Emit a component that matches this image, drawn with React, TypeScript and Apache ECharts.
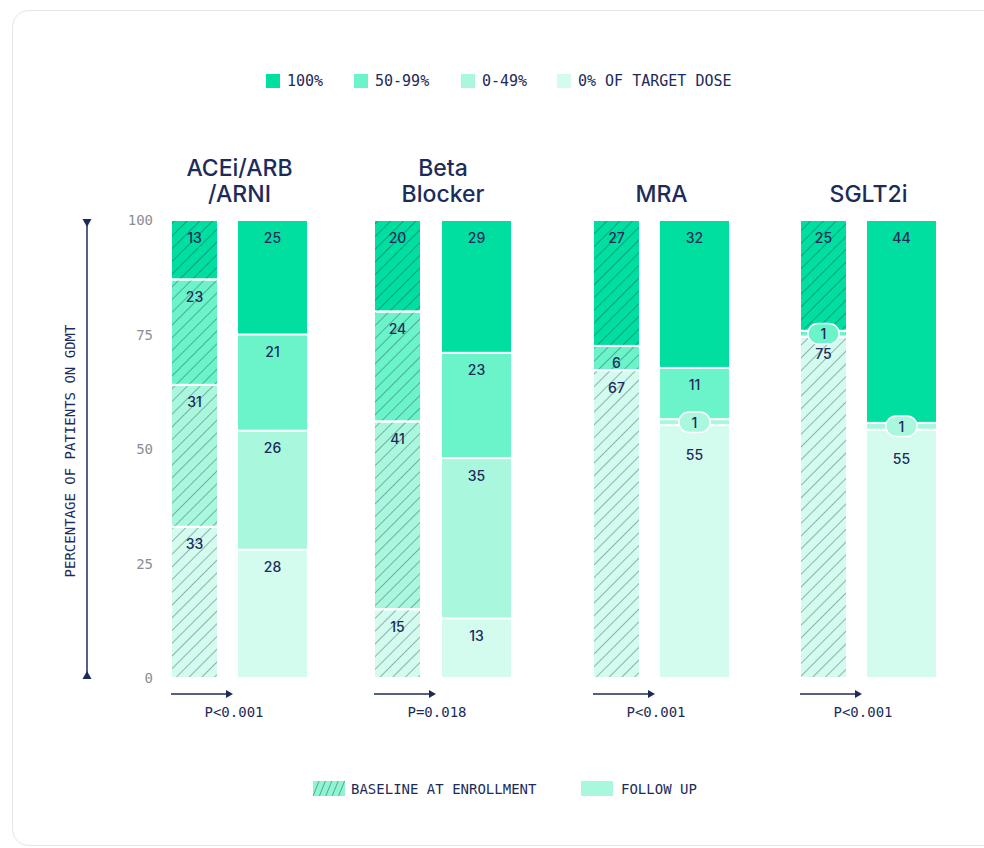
import React, { useEffect, useRef } from "react";
import * as echarts from "echarts";

// ---- data ----
const LEVELS = ["0% OF TARGET DOSE", "0-49%", "50-99%", "100%"]; // bottom -> top
const LEGEND_ORDER = ["100%", "50-99%", "0-49%", "0% OF TARGET DOSE"];
const LEVEL_COLORS = ["#d3fbee", "#a9f8de", "#6bf4c9", "#00df9f"];
const DRUGS = [["ACEi/ARB", "/ARNI"], ["Beta", "Blocker"], ["MRA"], ["SGLT2i"]];
const P_VALUES = ["P<0.001", "P=0.018", "P<0.001", "P<0.001"];
const Y_TICKS = [0, 25, 50, 75, 100];
const PERIODS = ["BASELINE AT ENROLLMENT", "FOLLOW UP"];

// measured bar heights (% of patients), one value per drug
const baselineZero = [33, 15, 67.2, 74.5];
const baselineLow = [31, 41, 0, 0];
const baselineMid = [23, 24, 5.3, 1.3];
const baselineFull = [13, 20, 27.5, 24.2];
// printed labels
const baselineZeroLabel = [33, 15, 67, 75];
const baselineLowLabel = [31, 41, 0, 0];
const baselineMidLabel = [23, 24, 6, 1];
const baselineFullLabel = [13, 20, 27, 25];

const followZero = [28, 13, 55.2, 54.2];
const followLow = [26, 35, 1.3, 1.5];
const followMid = [21, 23, 11.2, 0];
const followFull = [25, 29, 32.3, 44.3];
const followZeroLabel = [28, 13, 55, 55];
const followLowLabel = [26, 35, 1, 1];
const followMidLabel = [21, 23, 11, 0];
const followFullLabel = [25, 29, 32, 44];

// ---- layout ----
const NAVY = "#1d2b5b";
const GRAY = "#8a8d96";
const MONO = "'DejaVu Sans Mono', monospace";
const SANS = "Inter, 'Noto Sans', sans-serif";
const PLOT_TOP = 220;
const PLOT_BOTTOM = 678;
const BASE_LEFT = [171, 374, 593, 800];
const FOLLOW_LEFT = [237, 441, 659, 866];
const BASE_W = 47;
const FOLLOW_W = 71;

const HATCH = {
  symbol: "rect",
  symbolSize: 1,
  dashArrayX: [1, 0],
  dashArrayY: [1, 8],
  rotation: -Math.PI / 4,
  color: "rgba(35,55,85,0.38)",
};

function buildOption() {
  const grids: any[] = [];
  const xAxes: any[] = [];
  const yAxes: any[] = [];
  const series: any[] = [];
  const values = [
    [baselineZero, baselineLow, baselineMid, baselineFull],
    [followZero, followLow, followMid, followFull],
  ];
  const labels = [
    [baselineZeroLabel, baselineLowLabel, baselineMidLabel, baselineFullLabel],
    [followZeroLabel, followLowLabel, followMidLabel, followFullLabel],
  ];
  const order: [number, number][] = [];
  for (let p = 1; p >= 0; p--) for (let d = 0; d < DRUGS.length; d++) order.push([d, p]);
  order.forEach(([d, p], g) => {
    const left = p === 0 ? BASE_LEFT[d] : FOLLOW_LEFT[d];
    const width = p === 0 ? BASE_W : FOLLOW_W;
    grids.push({ left, width, top: PLOT_TOP, height: PLOT_BOTTOM - PLOT_TOP, containLabel: false });
    xAxes.push({ type: "category", gridIndex: g, data: [PERIODS[p]], show: false });
    const showY = d === 0 && p === 0;
    yAxes.push({
      type: "value",
      gridIndex: g,
      min: Y_TICKS[0],
      max: Y_TICKS[Y_TICKS.length - 1],
      interval: Y_TICKS[1] - Y_TICKS[0],
      show: showY,
      axisLine: { show: false },
      axisTick: { show: false },
      splitLine: { show: false },
      axisLabel: { show: showY, margin: 18, color: GRAY, fontFamily: MONO, fontSize: 14 },
    });
    for (let l = 0; l < LEVELS.length; l++) {
      const v = values[p][l][d];
      const lab = labels[p][l][d];
      const isPill = v > 0 && v < 3;
      const aboveVal = l < 3 ? values[p][l + 1][d] : 0;
      const belowPill = aboveVal > 0 && aboveVal < 3;
      const label: any = isPill
        ? {
            show: true,
            position: "inside",
            formatter: String(lab),
            color: NAVY,
            fontFamily: SANS,
            fontSize: 14,
            fontWeight: 500,
            backgroundColor: LEVEL_COLORS[l],
            borderColor: "#ffffff",
            borderWidth: 1.5,
            borderRadius: 10,
            padding: [3, 12, 2, 12],
          }
        : {
            show: v > 0,
            position: "insideTop",
            distance: belowPill ? 22 : 10,
            formatter: String(lab),
            color: NAVY,
            fontFamily: SANS,
            fontSize: 14,
            fontWeight: 500,
          };
      series.push({
        type: "bar",
        name: LEVELS[l],
        xAxisIndex: g,
        yAxisIndex: g,
        stack: "s" + g,
        barWidth: "100%",
        z: isPill ? 3 : 2,
        data: [{ value: v, label }],
        itemStyle: {
          color: LEVEL_COLORS[l],
          borderColor: "#ffffff",
          borderWidth: 1,
          decal: p === 0 ? HATCH : undefined,
        },
        emphasis: { disabled: true },
      });
    }
  });

  // ---- decorations ----
  const graphic: any[] = [];
  graphic.push({
    type: "rect",
    shape: { x: 12.5, y: 10.5, width: 1000, height: 835, r: 16 },
    style: { fill: "#ffffff", stroke: "#e5e5e5", lineWidth: 1 },
    z: -10,
    silent: true,
  });
  const legX = [266, 354, 461, 557];
  LEGEND_ORDER.forEach((name, i) => {
    const c = LEVEL_COLORS[LEVELS.indexOf(name)];
    graphic.push({ type: "rect", shape: { x: legX[i], y: 74, width: 14, height: 14 }, style: { fill: c } });
    graphic.push({
      type: "text",
      x: legX[i] + 21,
      y: 81,
      style: { text: name, fill: NAVY, font: `15px ${MONO}`, textVerticalAlign: "middle" },
    });
  });
  DRUGS.forEach((lines, d) => {
    const cx = (BASE_LEFT[d] + FOLLOW_LEFT[d] + FOLLOW_W) / 2;
    lines.forEach((line, k) => {
      graphic.push({
        type: "text",
        x: cx,
        y: 194 - (lines.length - 1 - k) * 26,
        style: {
          text: line,
          fill: NAVY,
          font: `500 23px ${SANS}`,
          lineHeight: 24,
          textAlign: "center",
          textVerticalAlign: "middle",
        },
      });
    });
    const ax = BASE_LEFT[d];
    graphic.push({ type: "line", shape: { x1: ax, y1: 694, x2: ax + 56, y2: 694 }, style: { stroke: NAVY, lineWidth: 1.5 } });
    graphic.push({
      type: "polygon",
      shape: { points: [[ax + 55, 690], [ax + 62, 694], [ax + 55, 698]] },
      style: { fill: NAVY },
    });
    graphic.push({
      type: "text",
      x: ax + 63,
      y: 712,
      style: { text: P_VALUES[d], fill: NAVY, font: `14px ${MONO}`, textAlign: "center", textVerticalAlign: "middle" },
    });
  });
  graphic.push({ type: "line", shape: { x1: 87, y1: PLOT_TOP, x2: 87, y2: PLOT_BOTTOM }, style: { stroke: NAVY, lineWidth: 1.5 } });
  graphic.push({ type: "polygon", shape: { points: [[82.5, 219], [91.5, 219], [87, 227]] }, style: { fill: NAVY } });
  graphic.push({ type: "polygon", shape: { points: [[82.5, 679], [91.5, 679], [87, 671]] }, style: { fill: NAVY } });
  graphic.push({
    type: "text",
    x: 70,
    y: 451,
    rotation: Math.PI / 2,
    style: {
      text: "PERCENTAGE OF PATIENTS ON GDMT",
      fill: NAVY,
      font: `14px ${MONO}`,
      textAlign: "center",
      textVerticalAlign: "middle",
    },
  });
  graphic.push({ type: "rect", shape: { x: 313, y: 781, width: 32, height: 15 }, style: { fill: "#8ef5d3" } });
  for (let i = 0; i < 5; i++) {
    const x0 = 313 + i * 6.4;
    graphic.push({
      type: "line",
      shape: { x1: x0, y1: 796, x2: x0 + 6, y2: 781 },
      style: { stroke: "rgba(35,55,85,0.45)", lineWidth: 1 },
    });
  }
  graphic.push({
    type: "text",
    x: 351,
    y: 789,
    style: { text: PERIODS[0], fill: NAVY, font: `14px ${MONO}`, textVerticalAlign: "middle" },
  });
  graphic.push({ type: "rect", shape: { x: 581, y: 781, width: 32, height: 15 }, style: { fill: LEVEL_COLORS[1] } });
  graphic.push({
    type: "text",
    x: 621,
    y: 789,
    style: { text: PERIODS[1], fill: NAVY, font: `14px ${MONO}`, textVerticalAlign: "middle" },
  });

  return {
    animation: false,
    backgroundColor: "#ffffff",
    grid: grids,
    xAxis: xAxes,
    yAxis: yAxes,
    series,
    graphic,
  };
}

export default function App() {
  const ref = useRef<HTMLDivElement>(null);
  useEffect(() => {
    if (!ref.current) return;
    const chart = echarts.init(ref.current, undefined, { renderer: "svg" });
    chart.setOption(buildOption());
    return () => chart.dispose();
  }, []);
  return (
    <div
      ref={ref}
      style={{ position: "fixed", left: 0, top: 0, width: 984, height: 848, background: "#fff" }}
    />
  );
}
